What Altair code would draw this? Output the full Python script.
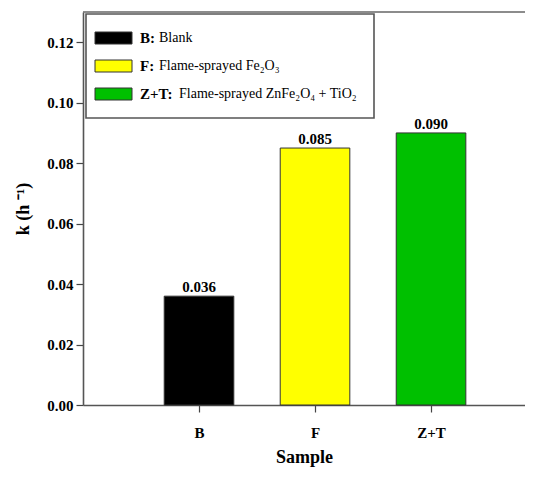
import altair as alt
import pandas as pd

samples = ["B", "F", "Z+T"]
positions = [1, 2, 3]
k_values = [0.036, 0.085, 0.090]
value_labels = ["0.036", "0.085", "0.090"]
colors = ["#000000", "#FFFF00", "#00C000"]

legend_bold = ["B:", "F:", "Z+T:"]
legend_text = ["Blank", "Flame-sprayed Fe₂O₃", "Flame-sprayed ZnFe₂O₄ + TiO₂"]

FONT = "Liberation Serif, Times New Roman, serif"

df = pd.DataFrame({
    "sample": samples,
    "pos": positions,
    "k": k_values,
    "label": value_labels,
    "color": colors,
})

xscale = alt.Scale(domain=[0, 3.81], nice=False, zero=False)
yscale = alt.Scale(domain=[0, 0.13], nice=False)

base = alt.Chart(df)

bars = base.transform_calculate(
    x1="datum.pos - 0.3", x2="datum.pos + 0.3"
).mark_bar(stroke="#333333", strokeWidth=1).encode(
    x=alt.X("x1:Q", scale=xscale,
            axis=alt.Axis(values=positions,
                          labelExpr="datum.value == 1 ? 'B' : datum.value == 2 ? 'F' : 'Z+T'",
                          title="Sample", grid=False,
                          labelFont=FONT, labelFontWeight="bold", labelFontSize=15,
                          labelColor="#000000", labelPadding=13,
                          titleFont=FONT, titleFontWeight="bold", titleFontSize=18,
                          titleColor="#000000", titlePadding=8,
                          tickSize=7, tickColor="#444444", tickWidth=1.2,
                          domainColor="#555555", domainWidth=1.6)),
    x2="x2:Q",
    y=alt.Y("k:Q", scale=yscale,
            axis=alt.Axis(values=[0, 0.02, 0.04, 0.06, 0.08, 0.10, 0.12],
                          format=".2f", title="k (h ⁻¹)", grid=False,
                          labelFont=FONT, labelFontWeight="bold", labelFontSize=15,
                          labelColor="#000000", labelPadding=3,
                          titleFont=FONT, titleFontWeight="bold", titleFontSize=18,
                          titleColor="#000000", titlePadding=14,
                          tickSize=7, tickColor="#444444", tickWidth=1.2,
                          domainColor="#555555", domainWidth=1.6)),
    y2=alt.datum(0),
    color=alt.Color("color:N", scale=None),
)

texts = base.mark_text(font=FONT, fontWeight="bold", fontSize=15, baseline="bottom",
                       dy=-1, color="#000000").encode(
    x=alt.X("pos:Q", scale=xscale),
    y=alt.Y("k:Q", scale=yscale),
    text="label:N",
)

topline = alt.Chart(pd.DataFrame({"v": [0.13]})).mark_rule(
    color="#666666", strokeWidth=1.6).encode(y=alt.Y("v:Q", scale=yscale))

# legend
leg = pd.DataFrame({
    "bold": legend_bold,
    "text": legend_text,
    "color": colors,
    "row": [0, 1, 2],
})
row_y = "26 + datum.row * 28"
legbox = alt.Chart(pd.DataFrame({"a": [0]})).mark_rect(
    fill="white", stroke="#555555", strokeWidth=1.6).encode(
    x=alt.value(3), x2=alt.value(291), y=alt.value(2), y2=alt.value(106))
swatch = alt.Chart(leg).transform_calculate(yc=row_y, y1="datum.yc - 6", y2="datum.yc + 6").mark_rect(
    stroke="#333333", strokeWidth=1).encode(
    x=alt.value(12), x2=alt.value(49),
    y=alt.Y("y1:Q", scale=None), y2="y2:Q",
    color=alt.Color("color:N", scale=None))
boldtxt = alt.Chart(leg).transform_calculate(yc=row_y).mark_text(
    font=FONT, fontWeight="bold", fontSize=15, align="left", baseline="middle", color="#000000").encode(
    x=alt.value(57), y=alt.Y("yc:Q", scale=None), text="bold:N")
normtxt = alt.Chart(leg).transform_calculate(
    yc=row_y, xo="datum.row == 2 ? 96 : 76").mark_text(
    font=FONT, fontSize=14, align="left", baseline="middle", color="#000000").encode(
    x=alt.X("xo:Q", scale=None), y=alt.Y("yc:Q", scale=None), text="text:N")

chart = alt.layer(bars, texts, topline, legbox, swatch, boldtxt, normtxt).properties(
    width=442, height=393,
    autosize=alt.AutoSizeParams(type="none"),
    padding={"left": 75, "top": 4, "right": 0, "bottom": 64},
).configure_view(stroke=None)

chart.save("out.html", embed_options={"renderer": "svg", "actions": False})
